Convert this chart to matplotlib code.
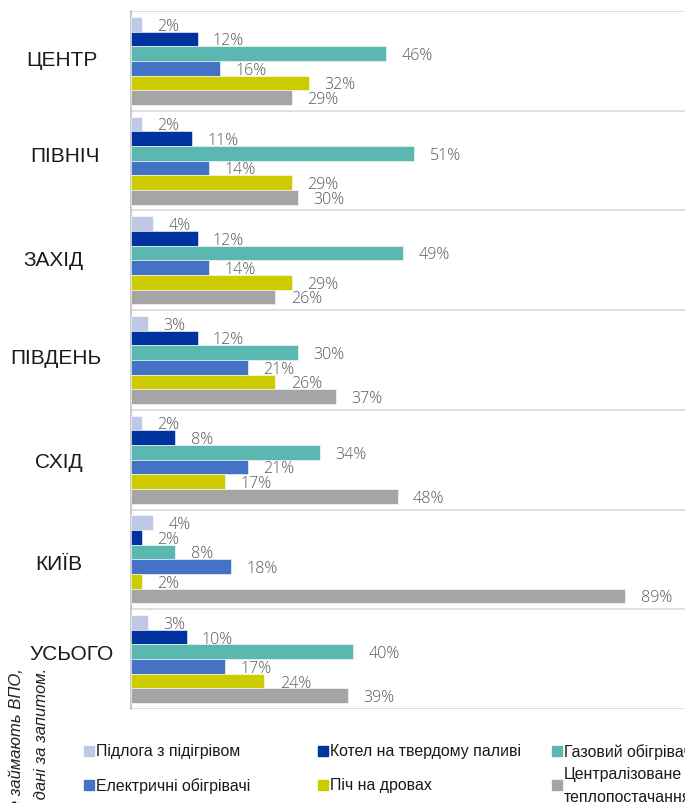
import matplotlib
matplotlib.use("Agg")
import matplotlib.pyplot as plt
from matplotlib.patches import Rectangle
from matplotlib.transforms import blended_transform_factory
from matplotlib import font_manager as fm

names = {f.name for f in fm.fontManager.ttflist}
narrow = 'Liberation Sans Narrow' if 'Liberation Sans Narrow' in names else 'Liberation Sans'

regions = ["ЦЕНТР", "ПІВНІЧ", "ЗАХІД", "ПІВДЕНЬ", "СХІД", "КИЇВ", "УСЬОГО"]
series = ["Підлога з підігрівом", "Котел на твердому паливі", "Газовий обігрівач",
          "Електричні обігрівачі", "Піч на дровах", "Централізоване\nтеплопостачання"]
pidloga = [2, 2, 4, 3, 2, 4, 3]
kotel = [12, 11, 12, 12, 8, 2, 10]
gaz = [46, 51, 49, 30, 34, 8, 40]
elektr = [16, 14, 14, 21, 21, 18, 17]
pich = [32, 29, 29, 26, 17, 2, 24]
central = [29, 30, 26, 37, 48, 89, 39]
values = [pidloga, kotel, gaz, elektr, pich, central]
colors = ["#BFC9E6", "#0033A0", "#5BB8B0", "#4472C4", "#CCCC00", "#A5A5A5"]

# label placement (style)
label_x_px = [62, 64.5, 53, 55.5, 59, 59, 72]
label_dy = [-0.01, -0.05, -0.01, -0.03, 0.02, 0.04, -0.06]

W, H = 685, 804
fig = plt.figure(figsize=(W / 100, H / 100), dpi=100)
ax = fig.add_axes([131 / W, (H - 710) / H, 1 - 131 / W + 0.002, (710 - 12) / H])

n = len(regions)
h = 0.147
for j, (vals, c) in enumerate(zip(values, colors)):
    ys = [i + 0.5 + (j - 2.5) * h for i in range(n)]
    ax.barh(ys, vals, height=h, color=c, edgecolor='white', linewidth=0.4, zorder=3)
    for y, v in zip(ys, vals):
        ax.annotate(f"{v}%", (v, y), xytext=(11, -1), textcoords='offset points',
                    ha='left', va='center', fontsize=11.5, color='#595959',
                    family=['Open Sans', 'DejaVu Sans'], fontweight='light')

ax.set_xlim(0, 100)
ax.set_ylim(n, 0)
for b in range(n + 1):
    ax.axhline(b, color='#D9D9D9', lw=1.2, zorder=1)
ax.set_xticks([])
ax.set_yticks([])
for s in ['top', 'right', 'bottom']:
    ax.spines[s].set_visible(False)
ax.spines['left'].set_color('#BFBFBF')
ax.spines['left'].set_linewidth(1.2)

tr = blended_transform_factory(fig.transFigure, ax.transData)
for i, (name, lx, dy) in enumerate(zip(regions, label_x_px, label_dy)):
    ax.text(lx / W, i + 0.5 + dy, name, transform=tr, ha='center', va='center',
            fontsize=15, family=narrow, color='#1a1a1a')

# legend
colx = [84, 318, 552]
rowy = [752, 786]
for k, (name, c) in enumerate(zip(series, colors)):
    r, cidx = divmod(k, 3)
    x0 = colx[cidx]
    y0 = rowy[r]
    fig.patches.append(Rectangle((x0 / W, (H - y0 - 5) / H), 10 / W, 10 / H,
                                 transform=fig.transFigure, color=c))
    fig.text((x0 + 12) / W, (H - y0) / H, name, fontsize=11.4, family=narrow,
             va='center', ha='left', color='#1a1a1a', linespacing=1.7)

# clipped side note
fig.text(17 / W, (H - 668) / H, "житло, яке займають ВПО,", rotation=90,
         ha='center', va='top', fontsize=12, style='italic', color='#222222',
         family=['Liberation Sans'])
fig.text(42 / W, (H - 668) / H, "власні дані за запитом.", rotation=90,
         ha='center', va='top', fontsize=12, style='italic', color='#222222',
         family=['Liberation Sans'])

fig.savefig("out.png", dpi=100)
